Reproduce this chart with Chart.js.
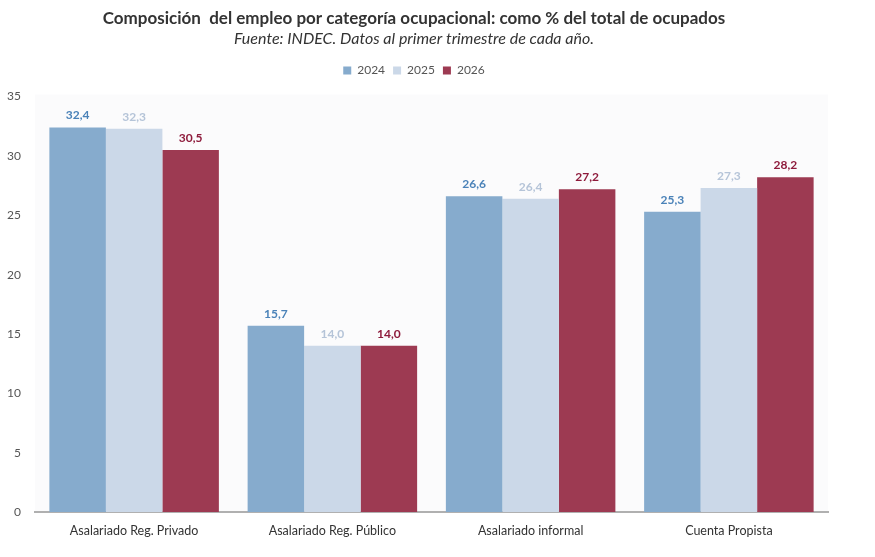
<!DOCTYPE html>
<html>
<head>
<meta charset="utf-8">
<script src="https://cdn.jsdelivr.net/npm/chart.js@4.4.0/dist/chart.umd.min.js"></script>
<style>
html,body{margin:0;padding:0;background:#fff;}
#wrap{width:875px;height:557px;position:relative;}
</style>
</head>
<body>
<div id="wrap"><canvas id="c" width="875" height="557"></canvas></div>
<script>
const categories = ["Asalariado Reg. Privado", "Asalariado Reg. Público", "Asalariado informal", "Cuenta Propista"];
const seriesNames = ["2024", "2025", "2026"];
const values2024 = [32.4, 15.7, 26.6, 25.3];
const values2025 = [32.3, 14.0, 26.4, 27.3];
const values2026 = [30.5, 14.0, 27.2, 28.2];
const yTicks = [0, 5, 10, 15, 20, 25, 30, 35];

const barColors = ["#86abcd", "#cbd8e8", "#9d3a52"];
const labelColors = ["#4a82b8", "#b5c4d8", "#8e1b3c"];
const FONT = "Lato, 'Open Sans', sans-serif";

const plotBg = {
  id: 'plotBg',
  beforeDraw(chart) {
    const {ctx, chartArea: a} = chart;
    ctx.save();
    ctx.fillStyle = '#fbfbfc';
    ctx.fillRect(a.left, a.top - 2, a.right - a.left, a.bottom - a.top + 2);
    ctx.restore();
  }
};

const legendMargin = {
  id: 'legendMargin',
  beforeInit(chart) {
    const orig = chart.legend.fit;
    chart.legend.fit = function () {
      orig.call(this);
      this.height += 10;
    };
  }
};

const valueLabels = {
  id: 'valueLabels',
  afterDatasetsDraw(chart) {
    const ctx = chart.ctx;
    ctx.save();
    ctx.font = "bold 12px " + FONT;
    ctx.textAlign = 'center';
    ctx.textBaseline = 'bottom';
    chart.data.datasets.forEach((ds, i) => {
      const meta = chart.getDatasetMeta(i);
      ctx.fillStyle = labelColors[i];
      meta.data.forEach((bar, j) => {
        ctx.fillText(ds.data[j].toFixed(1).replace('.', ','), bar.x, bar.y - 6);
      });
    });
    ctx.restore();
  }
};

new Chart(document.getElementById('c'), {
  type: 'bar',
  data: {
    labels: categories,
    datasets: [
      {label: seriesNames[0], data: values2024, backgroundColor: barColors[0]},
      {label: seriesNames[1], data: values2025, backgroundColor: barColors[1]},
      {label: seriesNames[2], data: values2026, backgroundColor: barColors[2]}
    ]
  },
  options: {
    responsive: false,
    animation: false,
    devicePixelRatio: 1,
    layout: {padding: {left: 0, right: 47, top: 6, bottom: 8}},
    datasets: {bar: {categoryPercentage: 0.855, barPercentage: 1.0, borderWidth: 0}},
    plugins: {
      title: {
        display: true,
        text: 'Composición  del empleo por categoría ocupacional: como % del total de ocupados',
        color: '#333333',
        font: {family: FONT, size: 17, weight: 'bold'},
        padding: {top: 2, bottom: 1}
      },
      subtitle: {
        display: true,
        text: 'Fuente: INDEC. Datos al primer trimestre de cada año.',
        color: '#333333',
        font: {family: FONT, size: 16, style: 'italic'},
        padding: {top: 0, bottom: 8}
      },
      legend: {
        display: true,
        position: 'top',
        labels: {
          boxWidth: 8, boxHeight: 8, padding: 8,
          color: '#555555',
          font: {family: FONT, size: 12}
        }
      },
      tooltip: {enabled: false}
    },
    scales: {
      x: {
        grid: {display: false, drawTicks: false},
        border: {display: true, color: '#b0b0b0', width: 2},
        ticks: {color: '#333333', font: {family: FONT, size: 12.5}, padding: 11}
      },
      y: {
        min: 0, max: 35,
        afterBuildTicks(scale) { scale.ticks = yTicks.map(v => ({value: v})); },
        afterFit(scale) { scale.width = 35; },
        grid: {display: false, drawTicks: false},
        border: {display: false},
        ticks: {color: '#555555', font: {family: FONT, size: 12}, padding: 14}
      }
    }
  },
  plugins: [plotBg, legendMargin, valueLabels]
});
</script>
</body>
</html>
